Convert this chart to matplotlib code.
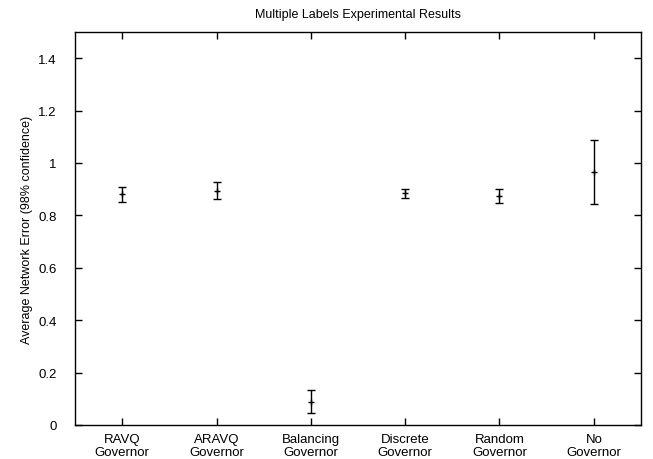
import matplotlib
matplotlib.use('Agg')
import matplotlib.pyplot as plt

plt.rcParams['font.family'] = ['Liberation Sans', 'DejaVu Sans']

labels = ['RAVQ\nGovernor', 'ARAVQ\nGovernor', 'Balancing\nGovernor',
          'Discrete\nGovernor', 'Random\nGovernor', 'No\nGovernor']
means = [0.880, 0.895, 0.089, 0.884, 0.874, 0.967]
errors = [0.027, 0.031, 0.043, 0.018, 0.025, 0.122]
positions = list(range(1, len(labels) + 1))

fig = plt.figure(figsize=(6.53, 4.60), dpi=100)
ax = fig.add_axes([75/653, 34/460, 566/653, 393/460])

ax.errorbar(positions, means, yerr=errors, fmt='+', color='black',
            ecolor='black', elinewidth=1, capsize=3, capthick=1,
            markersize=5, markeredgewidth=1)

ax.set_xlim(0.5, 6.5)
ax.set_ylim(0, 1.5)
ax.set_xticks(positions)
ax.set_xticklabels(labels, fontsize=9.5, linespacing=1.1)
ax.set_yticks([0, 0.2, 0.4, 0.6, 0.8, 1.0, 1.2, 1.4])
ax.set_yticklabels(['0', '0.2', '0.4', '0.6', '0.8', '1', '1.2', '1.4'], fontsize=9.5)
ax.tick_params(direction='in', length=5, width=1, top=True, right=True)
ax.tick_params(axis='x', pad=6)
ax.tick_params(axis='y', pad=13)
for s in ax.spines.values():
    s.set_linewidth(1)

ax.set_ylabel('Average Network Error (98% confidence)', fontsize=9, labelpad=4)
ax.set_title('Multiple Labels Experimental Results', fontsize=9, pad=11)

fig.savefig('out.png', dpi=100)
